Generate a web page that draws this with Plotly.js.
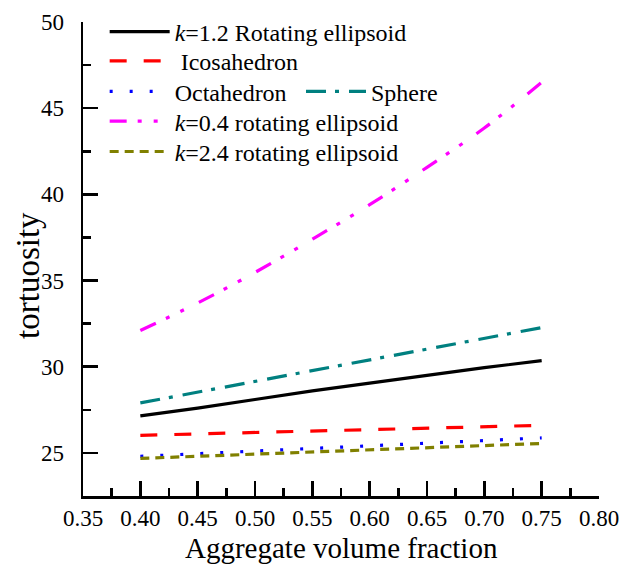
<!DOCTYPE html>
<html>
<head>
<meta charset="utf-8">
<script src="https://cdn.plot.ly/plotly-3.0.1.min.js"></script>
<style>html,body{margin:0;padding:0;background:#fff;}#chart{width:624px;height:570px;}</style>
</head>
<body>
<div id="chart"></div>
<script>
// Data
const fraction = [0.40, 0.45, 0.50, 0.55, 0.60, 0.65, 0.70, 0.75];
const k12Rotating = [27.15, 27.6, 28.1, 28.6, 29.05, 29.5, 29.95, 30.35];
const icosahedron = [26.02, 26.1, 26.18, 26.26, 26.34, 26.42, 26.5, 26.6];
const octahedron = [24.8, 24.95, 25.1, 25.25, 25.4, 25.55, 25.7, 25.87];
const sphere = [27.9, 28.52, 29.15, 29.77, 30.4, 31.02, 31.65, 32.27];
const k04Rotating = [32.1, 33.7, 35.47, 37.4, 39.4, 41.57, 43.85, 46.5];
const k24Rotating = [24.68, 24.8, 24.93, 25.05, 25.17, 25.3, 25.42, 25.55];

const xTicks = [0.35, 0.40, 0.45, 0.50, 0.55, 0.60, 0.65, 0.70, 0.75, 0.80];
const yTicks = [25, 30, 35, 40, 45, 50];
const xTitle = 'Aggregate volume fraction';
const yTitle = 'tortuosity';

const FONT = 'Liberation Serif';
const LW = 3.2;

const traces = [
  {x: fraction, y: k12Rotating, name: '<i>k</i>=1.2 Rotating ellipsoid', mode: 'lines', legend: 'legend',
   line: {color: '#000000', width: LW}},
  {x: fraction, y: icosahedron, name: ' Icosahedron', mode: 'lines', legend: 'legend2',
   line: {color: '#FF0000', width: LW, dash: '17px,17px'}},
  {x: fraction, y: octahedron, name: 'Octahedron', mode: 'lines', legend: 'legend3',
   line: {color: '#0000FF', width: LW, dash: '3px,17px'}},
  {x: fraction, y: sphere, name: 'Sphere', mode: 'lines', legend: 'legend4',
   line: {color: '#008080', width: LW, dash: '20px,9px,4px,10px'}},
  {x: fraction, y: k04Rotating, name: '<i>k</i>=0.4 rotating ellipsoid', mode: 'lines', legend: 'legend5',
   line: {color: '#FF00FF', width: LW, dash: '17px,11px,4px,12px,4px,17px', shape: 'spline'}},
  {x: fraction, y: k24Rotating, name: '<i>k</i>=2.4 rotating ellipsoid', mode: 'lines', legend: 'legend6',
   line: {color: '#808000', width: LW, dash: '9px,6px'}}
];

const axisCommon = {
  showline: true, linecolor: '#000', linewidth: 2.5, mirror: false,
  showgrid: false, zeroline: false,
  ticks: 'inside', ticklen: 15, tickwidth: 2.5, tickcolor: '#000',
  tickfont: {family: FONT, size: 23, color: '#000'},
  minor: {ticks: 'inside', ticklen: 8, tickwidth: 2.5, tickcolor: '#000', showgrid: false}
};

function leg(x, y) {
  return {x: x, y: y, xanchor: 'left', yanchor: 'middle', bgcolor: 'rgba(0,0,0,0)',
    font: {family: FONT, size: 24, color: '#000'}, itemwidth: 60, borderwidth: 0};
}

const layout = {
  width: 624, height: 570,
  margin: {l: 83, r: 25, t: 22, b: 74, autoexpand: false},
  paper_bgcolor: '#fff', plot_bgcolor: '#fff',
  font: {family: FONT, color: '#000'},
  xaxis: Object.assign({}, axisCommon, {
    range: [0.35, 0.80], tickmode: 'array', tickvals: xTicks,
    ticktext: xTicks.map(v => v.toFixed(2)),
    ticklabelstandoff: 0, automargin: false,
    minor: Object.assign({}, axisCommon.minor, {dtick: 0.025, tick0: 0.375})
  }),
  yaxis: Object.assign({}, axisCommon, {
    range: [22.5, 50], tickmode: 'array', tickvals: yTicks,
    ticklabelstandoff: 12, automargin: false,
    minor: Object.assign({}, axisCommon.minor, {dtick: 5, tick0: 22.5})
  }),
  annotations: [
    {text: xTitle, xref: 'paper', yref: 'paper', x: 0.5, y: -0.110, xanchor: 'center', yanchor: 'middle',
     showarrow: false, font: {family: FONT, size: 29, color: '#000'}},
    {text: yTitle, xref: 'paper', yref: 'paper', x: -0.107, y: 0.466, xanchor: 'center', yanchor: 'middle',
     textangle: -90, showarrow: false, font: {family: FONT, size: 33, color: '#000'}}
  ],
  showlegend: true,
  legend: leg(0.042, 0.979),
  legend2: leg(0.042, 0.917),
  legend3: leg(0.042, 0.853),
  legend4: leg(0.4225, 0.853),
  legend5: leg(0.042, 0.790),
  legend6: leg(0.042, 0.726)
};

Plotly.newPlot('chart', traces, layout, {displayModeBar: false, staticPlot: true});
</script>
</body>
</html>
